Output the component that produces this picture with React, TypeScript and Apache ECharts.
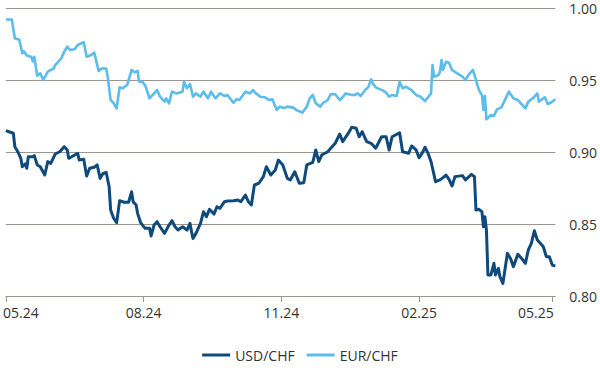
import React, { useEffect, useRef } from "react";
import * as echarts from "echarts";

const seriesNames = ["USD/CHF", "EUR/CHF"];
const xTickDates = ["2024-05-01", "2024-08-01", "2024-11-01", "2025-02-01", "2025-05-01"];
const yTicks = [0.8, 0.85, 0.9, 0.95, 1.0];

const usdDates = [
  "2024-05-01","2024-05-04","2024-05-06","2024-05-07","2024-05-09","2024-05-11","2024-05-12","2024-05-14","2024-05-15","2024-05-16",
  "2024-05-19","2024-05-20","2024-05-22","2024-05-24","2024-05-27","2024-05-29","2024-05-31","2024-06-03","2024-06-06","2024-06-09",
  "2024-06-11","2024-06-12","2024-06-14","2024-06-18","2024-06-19","2024-06-22","2024-06-24","2024-06-26","2024-06-29","2024-07-01",
  "2024-07-03","2024-07-05","2024-07-07","2024-07-09","2024-07-10","2024-07-12","2024-07-14","2024-07-16","2024-07-19","2024-07-22",
  "2024-07-24","2024-07-25","2024-07-27","2024-07-28","2024-07-30","2024-08-02","2024-08-05","2024-08-06","2024-08-08","2024-08-10",
  "2024-08-12","2024-08-15","2024-08-18","2024-08-20","2024-08-22","2024-08-24","2024-08-27","2024-08-30","2024-09-01","2024-09-02",
  "2024-09-03","2024-09-05","2024-09-08","2024-09-10","2024-09-12","2024-09-14","2024-09-17","2024-09-19","2024-09-21","2024-09-24",
  "2024-09-26","2024-09-30","2024-10-03","2024-10-05","2024-10-08","2024-10-10","2024-10-12","2024-10-14","2024-10-17","2024-10-20",
  "2024-10-22","2024-10-25","2024-10-28","2024-10-30","2024-11-02","2024-11-05","2024-11-07","2024-11-10","2024-11-13","2024-11-16",
  "2024-11-18","2024-11-22","2024-11-24","2024-11-26","2024-11-28","2024-12-02","2024-12-04","2024-12-07","2024-12-10","2024-12-12",
  "2024-12-16","2024-12-18","2024-12-21","2024-12-23","2024-12-25","2024-12-28","2024-12-31","2025-01-03","2025-01-07","2025-01-10",
  "2025-01-12","2025-01-14","2025-01-19","2025-01-21","2025-01-25","2025-01-27","2025-01-30","2025-02-01","2025-02-03","2025-02-05",
  "2025-02-07","2025-02-09","2025-02-10","2025-02-12","2025-02-15","2025-02-17","2025-02-19","2025-02-21","2025-02-23","2025-02-25",
  "2025-03-02","2025-03-04","2025-03-08","2025-03-10","2025-03-11","2025-03-13","2025-03-15","2025-03-16","2025-03-17","2025-03-18",
  "2025-03-19","2025-03-21","2025-03-23","2025-03-24","2025-03-26","2025-03-27","2025-03-29","2025-04-01","2025-04-03","2025-04-05",
  "2025-04-08","2025-04-11","2025-04-13","2025-04-15","2025-04-17","2025-04-19","2025-04-21","2025-04-23","2025-04-25","2025-04-27",
  "2025-04-29","2025-05-01","2025-05-03",
];
const usdValues = [
  0.9148,0.9137,0.913,0.9037,0.9002,0.8956,0.8898,0.8917,0.8887,0.8967,
  0.8967,0.8975,0.891,0.8898,0.884,0.8933,0.8921,0.8986,0.9002,0.9037,
  0.9014,0.8956,0.8967,0.8991,0.8944,0.8949,0.8833,0.8887,0.8894,0.891,
  0.8817,0.8852,0.8859,0.8759,0.8597,0.854,0.8509,0.8662,0.8651,0.8651,
  0.8724,0.8655,0.8632,0.8574,0.851,0.847,0.847,0.8417,0.8493,0.8516,
  0.8481,0.8435,0.8493,0.8523,0.8481,0.8458,0.8481,0.8458,0.8505,0.8447,
  0.84,0.8435,0.8505,0.8585,0.8551,0.8602,0.8569,0.862,0.8609,0.8655,
  0.866,0.8662,0.8667,0.8655,0.8701,0.8655,0.8632,0.8771,0.8783,0.8829,
  0.8898,0.884,0.8875,0.8944,0.891,0.8817,0.8806,0.8863,0.8783,0.8787,
  0.891,0.8928,0.9014,0.8933,0.8979,0.9002,0.9026,0.906,0.9125,0.9072,
  0.9134,0.9172,0.9165,0.9106,0.9141,0.9072,0.906,0.9026,0.9106,0.9106,
  0.9014,0.9106,0.9134,0.9002,0.8991,0.9042,0.9014,0.896,0.8991,0.9033,
  0.8991,0.8933,0.8887,0.8794,0.8806,0.8822,0.884,0.881,0.8764,0.8829,
  0.8836,0.8806,0.8845,0.8829,0.8597,0.8602,0.8585,0.8481,0.8551,0.8458,
  0.8146,0.8146,0.8227,0.8146,0.8192,0.8134,0.8088,0.8296,0.8262,0.8204,
  0.829,0.8255,0.8227,0.832,0.8366,0.8453,0.8389,0.8366,0.8342,0.8273,
  0.8273,0.8215,0.8208,
];

const eurDates = [
  "2024-05-01","2024-05-05","2024-05-07","2024-05-10","2024-05-12","2024-05-13","2024-05-15","2024-05-18","2024-05-19","2024-05-20",
  "2024-05-22","2024-05-24","2024-05-26","2024-05-29","2024-05-31","2024-06-02","2024-06-03","2024-06-07","2024-06-09","2024-06-11",
  "2024-06-13","2024-06-16","2024-06-18","2024-06-22","2024-06-24","2024-06-27","2024-06-29","2024-07-02","2024-07-04","2024-07-07",
  "2024-07-08","2024-07-10","2024-07-12","2024-07-14","2024-07-16","2024-07-18","2024-07-21","2024-07-24","2024-07-26","2024-07-28",
  "2024-07-29","2024-07-31","2024-08-02","2024-08-05","2024-08-08","2024-08-10","2024-08-12","2024-08-15","2024-08-16","2024-08-18",
  "2024-08-20","2024-08-23","2024-08-27","2024-08-28","2024-08-30","2024-09-01","2024-09-03","2024-09-05","2024-09-08","2024-09-10",
  "2024-09-13","2024-09-15","2024-09-18","2024-09-21","2024-09-24","2024-09-26","2024-09-30","2024-10-02","2024-10-04","2024-10-08",
  "2024-10-11","2024-10-13","2024-10-15","2024-10-18","2024-10-21","2024-10-24","2024-10-26","2024-10-29","2024-10-31","2024-11-03",
  "2024-11-05","2024-11-09","2024-11-11","2024-11-15","2024-11-18","2024-11-20","2024-11-22","2024-11-24","2024-11-27","2024-11-29",
  "2024-12-02","2024-12-04","2024-12-07","2024-12-10","2024-12-12","2024-12-14","2024-12-18","2024-12-20","2024-12-22","2024-12-24",
  "2024-12-27","2024-12-29","2024-12-31","2025-01-01","2025-01-03","2025-01-06","2025-01-08","2025-01-10","2025-01-12","2025-01-14",
  "2025-01-17","2025-01-19","2025-01-21","2025-01-23","2025-01-27","2025-01-30","2025-02-02","2025-02-05","2025-02-07","2025-02-09",
  "2025-02-10","2025-02-11","2025-02-14","2025-02-15","2025-02-16","2025-02-17","2025-02-19","2025-02-21","2025-02-23","2025-02-27",
  "2025-03-02","2025-03-04","2025-03-06","2025-03-09","2025-03-10","2025-03-13","2025-03-15","2025-03-16","2025-03-17","2025-03-18",
  "2025-03-21","2025-03-23","2025-03-25","2025-03-28","2025-04-02","2025-04-05","2025-04-08","2025-04-13","2025-04-15","2025-04-18",
  "2025-04-21","2025-04-22","2025-04-26","2025-04-28","2025-04-30","2025-05-03",
];
const eurValues = [
  0.992,0.992,0.979,0.978,0.9685,0.97,0.967,0.966,0.963,0.966,
  0.953,0.9546,0.95,0.9558,0.957,0.958,0.9604,0.965,0.9697,0.9731,
  0.9708,0.9713,0.9743,0.9762,0.9662,0.9674,0.969,0.9563,0.958,0.958,
  0.9523,0.936,0.934,0.9303,0.945,0.9442,0.9465,0.957,0.9553,0.9563,
  0.9488,0.9488,0.9465,0.9373,0.9407,0.943,0.9384,0.935,0.9373,0.9338,
  0.9419,0.9407,0.9419,0.9488,0.9442,0.9472,0.9384,0.9407,0.9384,0.9419,
  0.9373,0.9419,0.9373,0.9407,0.9389,0.9396,0.9342,0.9366,0.9361,0.9419,
  0.9407,0.943,0.9407,0.9384,0.938,0.9361,0.9366,0.9292,0.9315,0.9305,
  0.9315,0.9308,0.9292,0.9273,0.9315,0.9373,0.9396,0.9338,0.9315,0.9342,
  0.9361,0.9403,0.9401,0.9361,0.938,0.9407,0.9396,0.9396,0.9407,0.9389,
  0.943,0.9449,0.9505,0.9477,0.9449,0.9435,0.9426,0.9412,0.9384,0.9396,
  0.9389,0.9488,0.9442,0.9454,0.943,0.9396,0.9384,0.9354,0.938,0.9407,
  0.9604,0.9523,0.9535,0.9558,0.9639,0.957,0.9627,0.962,0.957,0.9542,
  0.9523,0.95,0.9535,0.957,0.9535,0.943,0.9396,0.9292,0.9389,0.9227,
  0.9257,0.925,0.9296,0.931,0.9419,0.9373,0.9361,0.9303,0.935,0.9373,
  0.9407,0.935,0.938,0.9333,0.9342,0.9366,
];

const xMin = "2024-05-01";
const xMax = "2025-05-03";

const FONT = "'Open Sans', 'Noto Sans', sans-serif";
const TEXT_COLOR = "#333333";
const GRID_COLOR = "#9a968c";

function toTs(s: string): number {
  const [y, m, d] = s.split("-").map(Number);
  return Date.UTC(y, m - 1, d);
}

export default function App() {
  const ref = useRef<HTMLDivElement>(null);

  useEffect(() => {
    document.body.style.margin = "0";
    if (!ref.current) return;
    const chart = echarts.init(ref.current, undefined, { renderer: "svg" });
    const tickTs = xTickDates.map(toTs);
    const pad = (n: number) => (n < 10 ? "0" + n : "" + n);
    const fmt = (v: number) => {
      const d = new Date(v);
      return pad(d.getUTCMonth() + 1) + "." + pad(d.getUTCFullYear() % 100);
    };
    const baseText = { fontFamily: FONT, fontSize: 14, color: TEXT_COLOR };

    chart.setOption({
      animation: false,
      backgroundColor: "#ffffff",
      grid: { left: 5, right: 44, top: 8, bottom: 84, containLabel: false },
      legend: {
        data: seriesNames,
        left: "center",
        top: 343,
        icon: "rect",
        itemWidth: 28,
        itemHeight: 3,
        itemGap: 12,
        textStyle: { ...baseText },
      },
      xAxis: {
        type: "value",
        min: toTs(xMin),
        max: toTs(xMax),
        axisLine: { show: true, lineStyle: { color: GRID_COLOR, width: 1 } },
        axisTick: { show: true, customValues: tickTs, length: 6, lineStyle: { color: GRID_COLOR, width: 1 } },
        splitLine: { show: false },
        axisLabel: {
          customValues: tickTs,
          margin: 9,
          ...baseText,
          formatter: (v: number) => {
            const t = fmt(v);
            if (v === tickTs[0]) return "{l|" + t + "}";
            if (v === tickTs[tickTs.length - 1]) return "{r|" + t + "}";
            return t;
          },
          rich: {
            l: { ...baseText, padding: [0, 0, 0, 30] },
            r: { ...baseText, padding: [0, 33, 0, 0] },
          },
        },
      },
      yAxis: {
        type: "value",
        position: "right",
        min: yTicks[0],
        max: yTicks[yTicks.length - 1],
        interval: 0.05,
        axisLine: { show: false },
        axisTick: { show: false },
        splitLine: { show: true, lineStyle: { color: GRID_COLOR, width: 1.2 } },
        axisLabel: {
          margin: 14,
          ...baseText,
          formatter: (v: number) => v.toFixed(2),
        },
      },
      series: [
        {
          name: seriesNames[0],
          type: "line",
          showSymbol: false,
          data: usdDates.map((d, i) => [toTs(d), usdValues[i]]),
          lineStyle: { color: "#0f4a7b", width: 3, join: "round" },
          itemStyle: { color: "#0f4a7b" },
        },
        {
          name: seriesNames[1],
          type: "line",
          showSymbol: false,
          data: eurDates.map((d, i) => [toTs(d), eurValues[i]]),
          lineStyle: { color: "#5cbcec", width: 2.6, join: "round" },
          itemStyle: { color: "#5cbcec" },
        },
      ],
    });

    return () => chart.dispose();
  }, []);

  return <div ref={ref} style={{ width: 600, height: 380 }} />;
}
